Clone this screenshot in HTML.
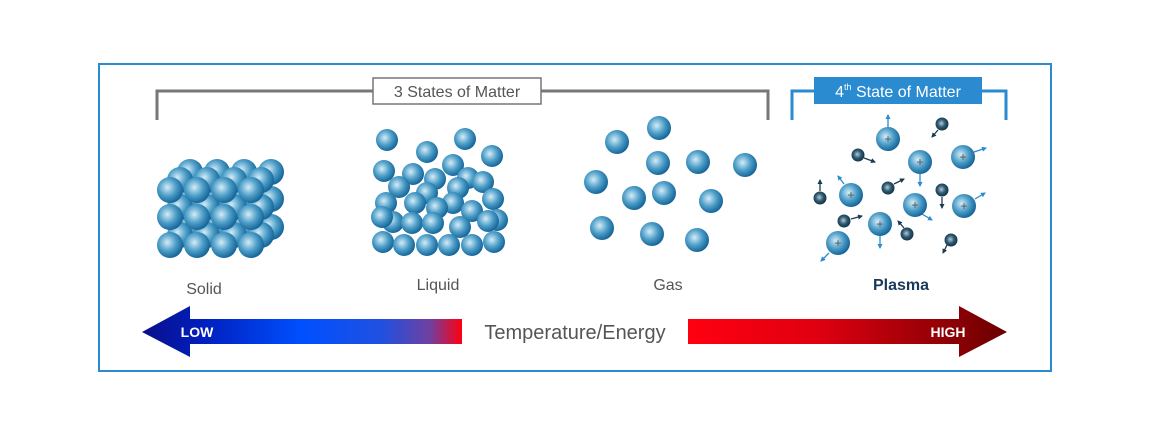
<!DOCTYPE html>
<html><head><meta charset="utf-8"><style>
html,body{margin:0;padding:0;background:#fff;}
svg{display:block;font-family:"Liberation Sans",sans-serif;}
</style></head><body>
<svg width="1150" height="435" viewBox="0 0 1150 435" xmlns="http://www.w3.org/2000/svg">
<defs>
<radialGradient id="b" cx="40%" cy="40%" r="60%">
<stop offset="0" stop-color="#d4ecf7"/><stop offset="0.55" stop-color="#4f9fc9"/><stop offset="1" stop-color="#17679b"/>
</radialGradient>
<radialGradient id="e" cx="45%" cy="45%" r="60%">
<stop offset="0" stop-color="#b8c8d2"/><stop offset="0.5" stop-color="#2d5a72"/><stop offset="1" stop-color="#0d2c3f"/>
</radialGradient>
<linearGradient id="lg" x1="0" x2="1">
<stop offset="0" stop-color="#0a0f8a"/><stop offset="0.2" stop-color="#0020c0"/><stop offset="0.5" stop-color="#0050ff"/><stop offset="0.75" stop-color="#2050e0"/><stop offset="0.9" stop-color="#7040a0"/><stop offset="1" stop-color="#ff0010"/>
</linearGradient>
<linearGradient id="rg" x1="0" x2="1">
<stop offset="0" stop-color="#ff0010"/><stop offset="0.4" stop-color="#e00010"/><stop offset="1" stop-color="#6a0000"/>
</linearGradient>
<marker id="ar" markerUnits="userSpaceOnUse" markerWidth="5" markerHeight="5" refX="4" refY="2.5" orient="auto"><path d="M0,0 L5,2.5 L0,5z" fill="#2a8bd0"/></marker>
<marker id="ad" markerUnits="userSpaceOnUse" markerWidth="5" markerHeight="5" refX="4" refY="2.5" orient="auto"><path d="M0,0 L5,2.5 L0,5z" fill="#1a3a50"/></marker>
</defs>
<rect x="99" y="64" width="952" height="307" fill="none" stroke="#2a8bd0" stroke-width="2"/>
<path d="M157,120 V91 H768 V120" fill="none" stroke="#777" stroke-width="3"/>
<rect x="373" y="78" width="168" height="26" fill="#fff" stroke="#777" stroke-width="1.5"/>
<text x="457" y="97" font-size="16" fill="#555" text-anchor="middle">3 States of Matter</text>
<path d="M792,120 V91 H1006 V120" fill="none" stroke="#2a8bd0" stroke-width="3"/>
<rect x="814" y="77" width="168" height="27" fill="#2a8bd0"/>
<text x="898" y="97" font-size="16" fill="#fff" text-anchor="middle">4<tspan font-size="9" dy="-7">th</tspan><tspan dy="7"> State of Matter</tspan></text>
<g id="solid" fill="url(#b)">
<g transform="translate(20,-18)"><circle cx="170" cy="190" r="13"/><circle cx="197" cy="190" r="13"/><circle cx="224" cy="190" r="13"/><circle cx="251" cy="190" r="13"/><circle cx="170" cy="217" r="13"/><circle cx="197" cy="217" r="13"/><circle cx="224" cy="217" r="13"/><circle cx="251" cy="217" r="13"/><circle cx="170" cy="245" r="13"/><circle cx="197" cy="245" r="13"/><circle cx="224" cy="245" r="13"/><circle cx="251" cy="245" r="13"/></g>
<g transform="translate(10,-10)"><circle cx="170" cy="190" r="13"/><circle cx="197" cy="190" r="13"/><circle cx="224" cy="190" r="13"/><circle cx="251" cy="190" r="13"/><circle cx="170" cy="217" r="13"/><circle cx="197" cy="217" r="13"/><circle cx="224" cy="217" r="13"/><circle cx="251" cy="217" r="13"/><circle cx="170" cy="245" r="13"/><circle cx="197" cy="245" r="13"/><circle cx="224" cy="245" r="13"/><circle cx="251" cy="245" r="13"/></g>
<circle cx="170" cy="190" r="13"/><circle cx="197" cy="190" r="13"/><circle cx="224" cy="190" r="13"/><circle cx="251" cy="190" r="13"/><circle cx="170" cy="217" r="13"/><circle cx="197" cy="217" r="13"/><circle cx="224" cy="217" r="13"/><circle cx="251" cy="217" r="13"/><circle cx="170" cy="245" r="13"/><circle cx="197" cy="245" r="13"/><circle cx="224" cy="245" r="13"/><circle cx="251" cy="245" r="13"/>
</g>
<g fill="url(#b)">
<circle cx="387" cy="140" r="11"/><circle cx="427" cy="152" r="11"/><circle cx="465" cy="139" r="11"/><circle cx="492" cy="156" r="11"/><circle cx="384" cy="171" r="11"/><circle cx="413" cy="174" r="11"/><circle cx="453" cy="165" r="11"/><circle cx="468" cy="178" r="11"/><circle cx="483" cy="182" r="11"/><circle cx="435" cy="179" r="11"/><circle cx="399" cy="187" r="11"/><circle cx="458" cy="188" r="11"/><circle cx="427" cy="193" r="11"/><circle cx="493" cy="199" r="11"/><circle cx="386" cy="203" r="11"/><circle cx="415" cy="203" r="11"/><circle cx="453" cy="203" r="11"/><circle cx="437" cy="208" r="11"/><circle cx="472" cy="211" r="11"/><circle cx="497" cy="220" r="11"/><circle cx="393" cy="222" r="11"/><circle cx="382" cy="217" r="11"/><circle cx="412" cy="223" r="11"/><circle cx="433" cy="223" r="11"/><circle cx="460" cy="227" r="11"/><circle cx="488" cy="221" r="11"/><circle cx="383" cy="242" r="11"/><circle cx="404" cy="245" r="11"/><circle cx="427" cy="245" r="11"/><circle cx="449" cy="245" r="11"/><circle cx="472" cy="245" r="11"/><circle cx="494" cy="242" r="11"/>
</g>
<g fill="url(#b)">
<circle cx="617" cy="142" r="12"/><circle cx="659" cy="128" r="12"/><circle cx="658" cy="163" r="12"/><circle cx="698" cy="162" r="12"/><circle cx="745" cy="165" r="12"/><circle cx="596" cy="182" r="12"/><circle cx="634" cy="198" r="12"/><circle cx="664" cy="193" r="12"/><circle cx="711" cy="201" r="12"/><circle cx="602" cy="228" r="12"/><circle cx="652" cy="234" r="12"/><circle cx="697" cy="240" r="12"/>
</g>
<g stroke="#2a8bd0" stroke-width="1.3" marker-end="url(#ar)">
<line x1="888" y1="128" x2="888" y2="115"/><line x1="920" y1="174" x2="920" y2="186"/><line x1="974" y1="152" x2="986" y2="148"/><line x1="844" y1="184" x2="838" y2="176"/><line x1="922" y1="214" x2="932" y2="220"/><line x1="975" y1="199" x2="985" y2="193"/><line x1="880" y1="236" x2="880" y2="248"/><line x1="829" y1="253" x2="821" y2="261"/>
</g>
<g fill="url(#b)">
<circle cx="888" cy="139" r="12"/><circle cx="920" cy="162" r="12"/><circle cx="963" cy="157" r="12"/><circle cx="851" cy="195" r="12"/><circle cx="915" cy="205" r="12"/><circle cx="964" cy="206" r="12"/><circle cx="880" cy="224" r="12"/><circle cx="838" cy="243" r="12"/>
</g>
<g font-size="12" fill="#555" text-anchor="middle">
<text x="888" y="143">+</text><text x="920" y="166">+</text><text x="963" y="161">+</text><text x="851" y="199">+</text><text x="915" y="209">+</text><text x="964" y="210">+</text><text x="880" y="228">+</text><text x="838" y="247">+</text>
</g>
<g stroke="#1a3a50" stroke-width="1.3" marker-end="url(#ad)">
<line x1="938" y1="130" x2="932" y2="137"/><line x1="864" y1="158" x2="875" y2="162"/><line x1="894" y1="184" x2="904" y2="179"/><line x1="942" y1="197" x2="942" y2="208"/><line x1="820" y1="191" x2="820" y2="180"/><line x1="851" y1="219" x2="862" y2="216"/><line x1="904" y1="228" x2="898" y2="221"/><line x1="947" y1="245" x2="943" y2="253"/>
</g>
<g fill="url(#e)">
<circle cx="942" cy="124" r="6.5"/><circle cx="858" cy="155" r="6.5"/><circle cx="888" cy="188" r="6.5"/><circle cx="942" cy="190" r="6.5"/><circle cx="820" cy="198" r="6.5"/><circle cx="844" cy="221" r="6.5"/><circle cx="907" cy="234" r="6.5"/><circle cx="951" cy="240" r="6.5"/>
</g>
<g font-size="16" text-anchor="middle" fill="#555">
<text x="204" y="294">Solid</text><text x="438" y="290">Liquid</text><text x="668" y="290">Gas</text>
<text x="901" y="290" font-weight="bold" fill="#1a3a5a">Plasma</text>
</g>
<path d="M142,332 L190,306 V319 H462 V344 H190 V357 Z" fill="url(#lg)"/>
<path d="M1007,332 L959,306 V319 H688 V344 H959 V357 Z" fill="url(#rg)"/>
<text x="197" y="337" font-size="14" font-weight="bold" fill="#fff" text-anchor="middle">LOW</text>
<text x="948" y="337" font-size="14" font-weight="bold" fill="#fff" text-anchor="middle">HIGH</text>
<text x="575" y="339" font-size="20" fill="#555" text-anchor="middle">Temperature/Energy</text>
</svg>
</body></html>
